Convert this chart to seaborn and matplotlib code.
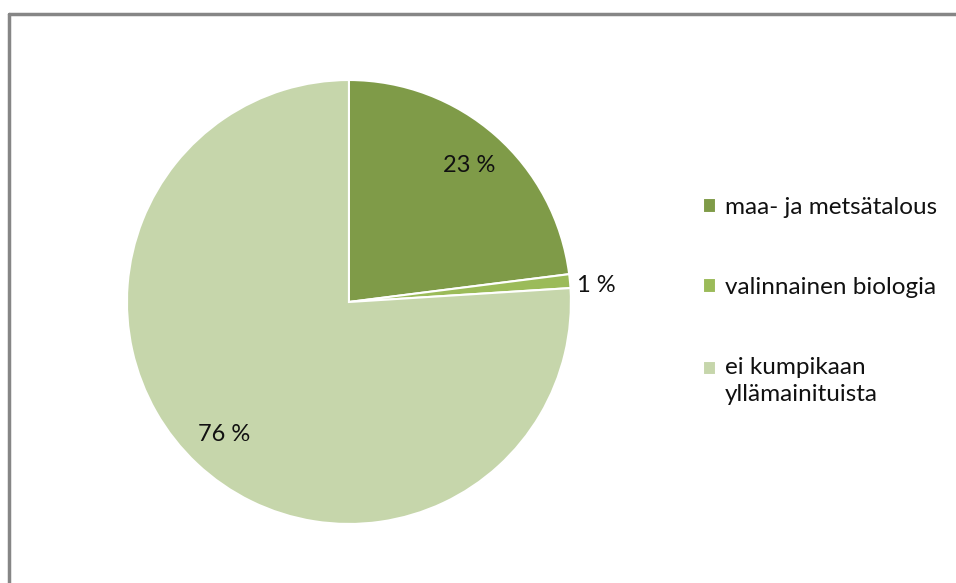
import numpy as np
import matplotlib.pyplot as plt
import matplotlib.lines as mlines
import seaborn as sns

sns.set_theme(style="white")
plt.rcParams['font.family'] = ['Lato', 'DejaVu Sans']

categories = ['maa- ja metsätalous', 'valinnainen biologia', 'ei kumpikaan\nyllämainituista']
shares = [23, 1, 76]
colors = ['#7f9b48', '#9bbb59', '#c6d6ab']
FS = 17.5
LS = 1.35
TXT = '#111111'

fig = plt.figure(figsize=(9.56, 5.83), dpi=100)
ax = fig.add_axes([0.1328, 0.1012, 0.4644, 0.7616])

wedges, texts, autotexts = ax.pie(
    shares, colors=colors, startangle=90, counterclock=False,
    autopct=lambda p: f'{p:.0f} %', pctdistance=0.82,
    wedgeprops=dict(edgecolor='white', linewidth=1.5),
    textprops=dict(fontsize=17, color=TXT))
ax.set_aspect('equal')
ax.set_xlim(-1, 1)
ax.set_ylim(-1, 1)

# small slice label sits just outside the pie
for w, t, v in zip(wedges, autotexts, shares):
    if v < 5:
        ang = np.deg2rad((w.theta1 + w.theta2) / 2)
        t.set_position((1.12 * np.cos(ang), 1.12 * np.sin(ang) - 0.03))
        t.set_ha('center')
        t.set_clip_on(False)

leg = fig.legend(wedges, categories, loc='center left', bbox_to_anchor=(0.735, 0.484),
                 frameon=False, fontsize=FS, handlelength=0.55, handleheight=0.55,
                 handletextpad=0.35, labelspacing=2.42, borderpad=0, borderaxespad=0,
                 labelcolor=TXT)
for t in leg.get_texts():
    t.set_linespacing(LS)
# align the marker of the wrapped entry with its first line
h = leg.legend_handles[2]
h.set_y(h.get_y() + 9)

# frame lines on top and left
fig.add_artist(mlines.Line2D([8.5 / 956, 1], [1 - 13.5 / 583] * 2, color='#868686', lw=2.5))
fig.add_artist(mlines.Line2D([8.5 / 956] * 2, [0, 1 - 13.5 / 583], color='#868686', lw=2.5))

fig.savefig('out.png', dpi=100)
